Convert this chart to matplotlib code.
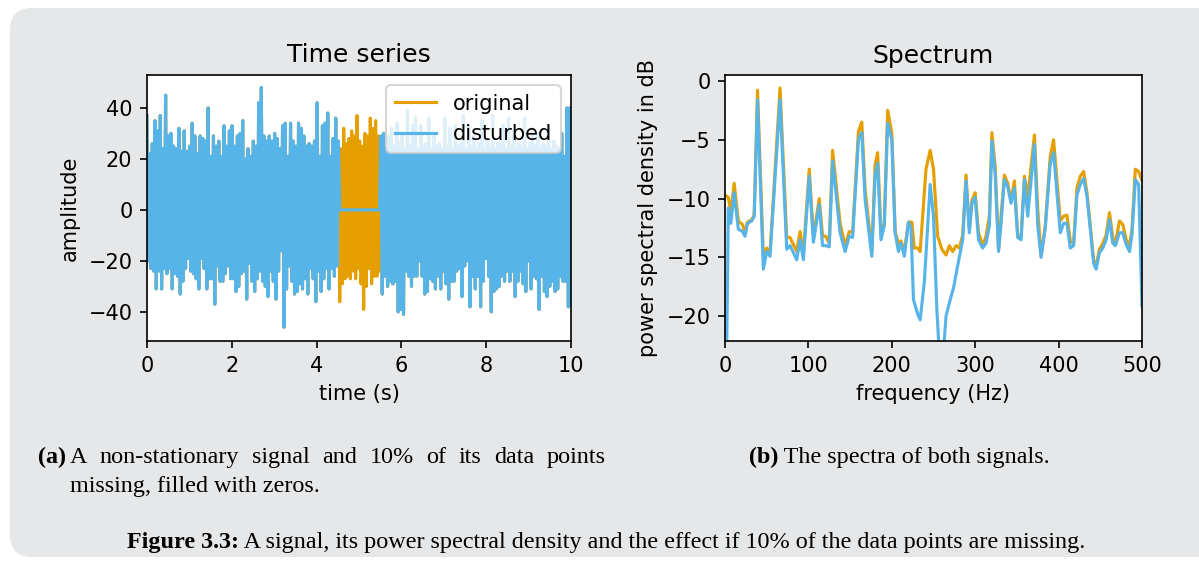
import numpy as np
import matplotlib
matplotlib.use("Agg")
import matplotlib.pyplot as plt
from matplotlib.patches import FancyBboxPatch
from matplotlib.transforms import IdentityTransform

plt.rcParams['font.family'] = 'DejaVu Sans'

ORANGE = '#E69F00'
BLUE = '#56B4E9'
BG = '#e6e7e8'

sig_hi = [37, 22, 26, 35, 31, 37, 24, 45, 29, 30, 25, 24, 32, 23, 31, 23, 25, 34, 29, 22,
          29, 28, 27, 40, 21, 29, 25, 27, 21, 33, 25, 31, 33, 25, 29, 30, 35, 20, 24, 21,
          27, 25, 42, 48, 29, 27, 29, 27, 30, 28, 24, 33, 34, 21, 34, 27, 25, 34, 32, 29,
          25, 26, 25, 27, 42, 21, 33, 34, 38, 21, 28, 36,
          27, 24, 32, 26, 28, 31, 29, 37, 27, 25, 30, 29, 36, 32, 35, 29,
          29, 30, 24, 29, 32, 25, 34, 26, 30, 24, 39, 25, 33, 36, 24, 33, 25, 26, 36, 24,
          29, 25, 26, 24, 36, 25, 32, 24, 33, 25, 26, 37, 24, 33, 25, 29, 24, 26, 35, 24,
          27, 25, 37, 24, 26, 25, 33, 24, 36, 25, 31, 24, 26, 25, 36, 24, 26, 32, 25, 30,
          24, 26, 25, 33, 24, 27, 25, 24, 30, 21, 40, 40]
sig_lo = [-20, -23, -24, -31, -24, -31, -23, -25, -23, -31, -25, -26, -33, -28, -23, -19, -24, -25, -27, -31,
          -19, -23, -31, -27, -27, -37, -22, -28, -28, -25, -22, -27, -27, -32, -30, -25, -24, -35, -21, -28,
          -32, -27, -24, -28, -30, -34, -24, -28, -35, -24, -16, -46, -31, -22, -28, -33, -32, -29, -31, -27,
          -33, -23, -27, -36, -24, -32, -27, -23, -31, -23, -26, -22,
          -36, -29, -27, -26, -27, -24, -27, -23, -29, -39, -30, -23, -29, -26, -26, -24,
          -33, -26, -30, -28, -29, -28, -40, -39, -41, -24, -26, -30, -26, -26, -20, -26, -33, -32, -27, -28,
          -31, -26, -31, -24, -29, -35, -28, -28, -24, -23, -34, -22, -20, -38, -26, -31, -26, -38, -28, -19,
          -26, -40, -32, -31, -30, -26, -28, -24, -28, -24, -34, -28, -24, -29, -32, -20, -31, -26, -27, -39,
          -26, -32, -34, -30, -28, -32, -31, -26, -28, -28, -38, -37]
t_end = 10.0
gap_start, gap_end = 4.53, 5.49   # missing samples, filled with zeros

# spectra (dB)
freq_orig = [0, 4, 7, 11, 16, 21, 24, 27, 32, 35, 39, 46, 50, 54, 66, 74, 78, 86, 90, 94,
             101, 106, 113, 117, 121, 125, 129, 138, 144, 149, 153, 160, 164, 168, 176, 180, 183, 187, 191, 195,
             200, 204, 208, 211, 215, 220, 224, 227, 231, 234, 241, 246, 250, 255, 260, 265, 269, 273, 277, 281,
             285, 289, 293, 296, 300, 304, 309, 313, 317, 320, 324, 328, 331, 335, 339, 343, 347, 351, 355, 359,
             363, 371, 375, 379, 384, 390, 394, 402, 406, 410, 414, 418, 422, 426, 430, 434, 438, 442, 445, 449,
             453, 457, 461, 465, 468, 473, 477, 481, 485, 488, 492, 496, 500]
psd_orig = [-9.7, -9.9, -11.2, -8.7, -11.9, -12.2, -12.9, -12.0, -11.8, -11.4,
            -0.8, -15.0, -14.2, -14.6, -0.6, -13.3, -13.3, -14.5, -12.8, -14.7,
            -7.5, -13.3, -10.0, -13.2, -13.2, -13.8, -5.9, -12.1, -14.0, -12.8,
            -12.9, -4.3, -3.5, -9.2, -14.6, -7.1, -6.1, -12.9, -12.1, -2.5,
            -4.4, -12.8, -13.8, -13.6, -14.5, -12.0, -12.0, -14.2, -14.2, -14.5,
            -7.5, -5.9, -7.5, -13.2, -14.3, -14.8, -14.0, -14.5, -14.0, -14.2,
            -13.1, -8.0, -12.6, -10.2, -9.5, -12.9, -14.0, -13.2, -11.5, -4.4,
            -7.3, -14.3, -11.5, -8.0, -8.7, -10.2, -8.5, -13.2, -13.3, -8.1,
            -9.9, -4.6, -10.9, -14.9, -12.3, -6.4, -5.0, -11.9, -11.5, -11.4,
            -13.6, -13.8, -9.1, -8.1, -7.7, -9.5, -12.3, -15.2, -15.7, -14.3,
            -13.8, -13.1, -11.2, -13.3, -13.8, -11.9, -12.2, -13.5, -14.0, -12.6,
            -7.5, -7.7, -8.5]
freq_dist = [0, 4, 7, 11, 16, 21, 24, 27, 32, 35, 39, 46, 50, 54, 66, 74, 78, 86, 90, 94,
             101, 106, 113, 117, 121, 125, 129, 138, 144, 149, 153, 160, 164, 168, 176, 180, 183, 187, 191, 195,
             200, 204, 208, 211, 215, 220, 223, 226, 231, 234, 239, 246, 250, 254, 258, 262, 265, 270, 274, 279,
             285, 289, 293, 296, 300, 304, 309, 313, 317, 320, 324, 328, 331, 335, 339, 343, 347, 351, 355, 359,
             363, 371, 375, 379, 384, 390, 394, 402, 406, 410, 414, 418, 422, 426, 430, 434, 438, 442, 445, 449,
             453, 457, 461, 465, 468, 473, 477, 481, 485, 488, 492, 496, 500]
psd_dist = [-35.0, -10.8, -12.1, -9.5, -12.6, -12.8, -13.2, -12.1, -11.9, -11.5,
            -1.6, -16.0, -14.5, -14.9, -1.6, -14.3, -14.0, -15.2, -13.5, -15.2,
            -8.1, -13.7, -10.5, -14.0, -14.0, -14.1, -6.8, -12.9, -14.5, -13.2,
            -13.3, -5.0, -4.4, -10.1, -14.9, -8.0, -7.0, -13.5, -12.3, -3.6,
            -5.0, -12.9, -14.5, -13.8, -14.9, -12.0, -12.5, -18.6, -19.8, -20.3,
            -17.1, -8.8, -11.5, -19.4, -24.5, -23.0, -20.0, -18.6, -17.6, -15.7,
            -13.5, -8.5, -12.9, -10.4, -9.9, -13.5, -14.2, -13.8, -12.3, -5.1,
            -8.0, -14.5, -12.1, -8.4, -9.0, -10.4, -9.1, -13.3, -13.5, -8.4,
            -11.5, -5.4, -12.3, -15.0, -12.5, -7.0, -6.1, -12.9, -12.1, -12.1,
            -14.2, -14.0, -9.7, -8.8, -8.3, -9.8, -12.6, -15.5, -16.0, -14.6,
            -14.2, -13.5, -11.8, -13.8, -14.0, -12.9, -12.9, -13.9, -14.5, -13.05,
            -8.4, -8.8, -19.1]

W, H, DPI = 1199, 562, 150


def fpos(x, y):
    # pixel position (from top-left) -> figure fraction
    return x / W, 1 - y / H


fig = plt.figure(figsize=(W / DPI, H / DPI), dpi=DPI)
fig.patch.set_facecolor('white')
bg = FancyBboxPatch((10, 5), W + 40, H - 13, boxstyle='round,pad=0,rounding_size=22',
                    transform=IdentityTransform(), facecolor=BG, edgecolor='none', zorder=-10)
fig.add_artist(bg)

ax1 = fig.add_axes([147 / W, 1 - 341 / H, 424 / W, 266 / H])
ax2 = fig.add_axes([725 / W, 1 - 341 / H, 417 / W, 266 / H])

# left: time series
signal = np.column_stack([sig_hi, sig_lo]).ravel()
t = np.linspace(0, t_end, signal.size)
disturbed = np.where((t >= gap_start) & (t < gap_end), 0.0, signal)
ax1.plot(t, signal, color=ORANGE, lw=1.5, label='original')
ax1.plot(t, disturbed, color=BLUE, lw=1.5, label='disturbed')
ax1.set_xlim(0, 10)
ax1.set_ylim(-51.4, 52.9)
ax1.set_title('Time series')
ax1.set_xlabel('time (s)')
ax1.set_ylabel('amplitude')
ax1.legend(loc='upper right')

# right: spectra
ax2.plot(freq_orig, psd_orig, color=ORANGE, lw=1.5)
ax2.plot(freq_dist, psd_dist, color=BLUE, lw=1.5)
ax2.set_xlim(0, 500)
ax2.set_ylim(-22.1, 0.5)
ax2.set_title('Spectrum')
ax2.set_xlabel('frequency (Hz)')
ax2.set_ylabel('power spectral density in dB')

# captions
serif = 'Liberation Serif'
cs = 11.6
renderer = fig.canvas.get_renderer()


def width(txt):
    return txt.get_window_extent(renderer).width


def run(x, y, parts):
    # parts: list of (string, weight); placed one after the other
    out = []
    for s, wgt in parts:
        tx = fig.text(*fpos(x, y), s, family=serif, size=cs, weight=wgt, va='baseline')
        x += width(tx)
        out.append(tx)
    return out


# (a) caption, first line justified between 70 and 606 px
fig.text(*fpos(38, 463), '(a)', family=serif, size=cs, weight='bold', va='baseline')
words_a = ['A', 'non-stationary', 'signal', 'and', '10%', 'of', 'its', 'data', 'points']
texts = [fig.text(0, 0, w, family=serif, size=cs, va='baseline') for w in words_a]
widths = [width(tx) for tx in texts]
gap = (606 - 70 - sum(widths)) / (len(texts) - 1)
x = 70
for tx, wd in zip(texts, widths):
    tx.set_position(fpos(x, 463))
    x += wd + gap
fig.text(*fpos(70, 492), 'missing, filled with zeros.', family=serif, size=cs, va='baseline')

run(749, 463, [('(b)', 'bold'), (' The spectra of both signals.', 'normal')])

cap = run(0, 548, [('Figure 3.3:', 'bold'),
                   (' A signal, its power spectral density and the effect if 10% of the data points are missing.',
                    'normal')])
total = sum(width(tx) for tx in cap)
x = 606 - total / 2
for tx in cap:
    tx.set_position(fpos(x, 548))
    x += width(tx)

fig.savefig('out.png', dpi=DPI)
